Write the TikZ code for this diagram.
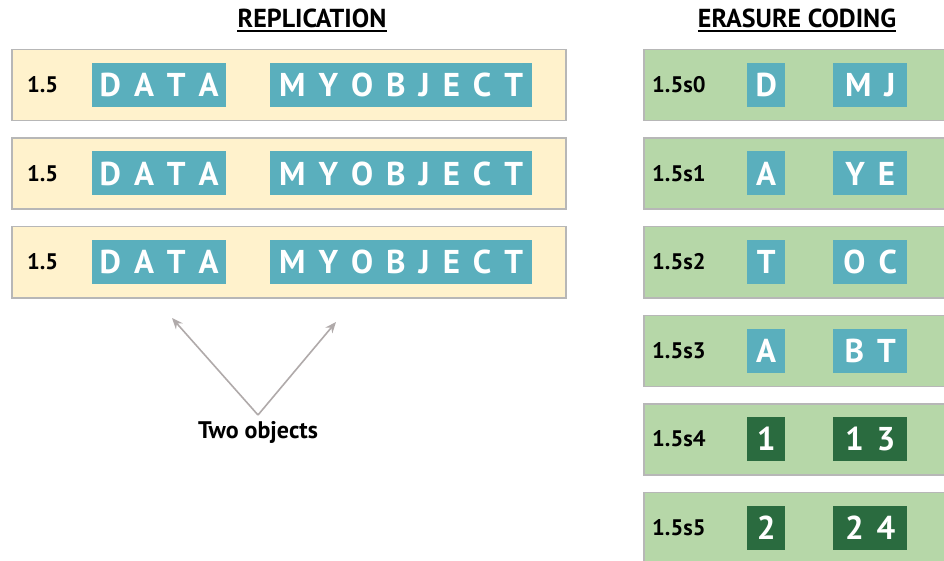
\documentclass[tikz,border=0pt]{standalone}
\usepackage{fontspec}
\setmainfont{PT Sans}
\usetikzlibrary{arrows.meta}
\definecolor{repfill}{HTML}{FFF2CC}
\definecolor{ecfill}{HTML}{B6D7A8}
\definecolor{rowedge}{HTML}{B7B7B7}
\definecolor{teal}{HTML}{5AAFBD}
\definecolor{darkgreen}{HTML}{2A6B3F}
\definecolor{arrowgray}{HTML}{B0AAAA}
\newcommand{\gap}{\hspace{13pt}}
\tikzset{
  rowbox/.style={draw=rowedge, line width=1.5pt, anchor=north west, inner sep=0pt},
  reprow/.style={rowbox, fill=repfill, minimum width=554pt, minimum height=71pt},
  ecrow/.style={rowbox, fill=ecfill, minimum width=330pt, minimum height=71pt},
  chunk/.style={fill=teal, text=white, font=\bfseries\fontsize{33}{33}\selectfont,
    inner sep=0pt, minimum height=44pt, anchor=west},
  parity/.style={chunk, fill=darkgreen},
  rowlabel/.style={font=\bfseries\fontsize{22.5}{22.5}\selectfont, anchor=west, inner sep=0pt},
  heading/.style={font=\bfseries\fontsize{26}{26}\selectfont, inner sep=0pt},
  pointer/.style={draw=arrowgray, line width=1.6pt, -{Stealth[length=11pt,width=9pt]}},
}
\begin{document}
\begin{tikzpicture}[x=1pt, y=-1pt]
\clip (0,0) rectangle (944,561);
\fill[white] (0,0) rectangle (944,561);

% headings
\node[heading] (hrep) at (312,18) {REPLICATION};
\node[heading] (hec) at (797,18) {ERASURE CODING};
\draw[line width=2pt] ([yshift=-3.5pt]hrep.base west) -- ([yshift=-3.5pt]hrep.base east);
\draw[line width=2pt] ([yshift=-3.5pt]hec.base west) -- ([yshift=-3.5pt]hec.base east);

% replicated copies
\foreach \i/\y in {1/49, 2/137.5, 3/226} {
  \node[reprow] (rep\i) at (11,\y) {};
  \node[rowlabel] (replab\i) at (27,\y+36) {1.5};
  \node[chunk, minimum width=134pt] (repd\i) at (92,\y+36) {D\gap A\gap T\gap A};
  \node[chunk, minimum width=262pt] (repo\i) at (270,\y+36)
    {M\gap Y\gap O\gap B\gap J\gap E\gap C\gap T};
}

% erasure-coded fragments
\foreach \i/\y/\a/\b/\st in {
    0/49/D/M\gap J/chunk, 1/137.5/A/Y\gap E/chunk, 2/226/T/O\gap C/chunk,
    3/314.5/A/B\gap T/chunk, 4/403/1/1\gap 3/parity, 5/491.5/2/2\gap 4/parity} {
  \node[ecrow] (ec\i) at (643,\y) {};
  \node[rowlabel] (eclab\i) at (652,\y+36) {1.5s\i};
  \node[\st, minimum width=38pt] (eca\i) at (747,\y+36) {\a};
  \node[\st, minimum width=74pt] (ecb\i) at (833,\y+36) {\b};
}

% pointer to the two objects
\node[font=\bfseries\fontsize{24}{24}\selectfont, inner sep=0pt] (twoobj) at (258,432) {Two objects};
\coordinate (apex) at (258,415);
\coordinate (tipdata) at (172,318);
\coordinate (tipobj) at (336,322);
\draw[pointer] (apex) -- (tipdata);
\draw[pointer] (apex) -- (tipobj);
\end{tikzpicture}
\end{document}
